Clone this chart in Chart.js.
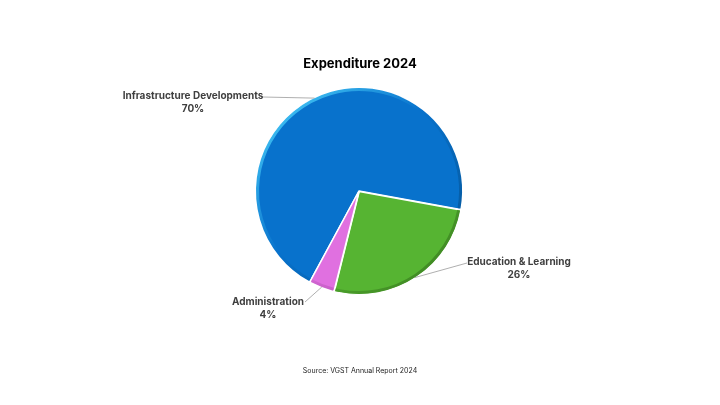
<!DOCTYPE html>
<html>
<head>
<meta charset="utf-8">
<script src="https://cdn.jsdelivr.net/npm/chart.js@4.4.1/dist/chart.umd.min.js"></script>
<style>
  html, body { margin: 0; padding: 0; background: #ffffff; }
  #wrap { width: 720px; height: 405px; }
</style>
</head>
<body>
<div id="wrap"><canvas id="c" width="720" height="405"></canvas></div>
<script>
// ---- data ----
const categories = ["Infrastructure Developments", "Education & Learning", "Administration"];
const shares = [70, 26, 4];
const percentLabels = ["70%", "26%", "4%"];
const chartTitle = "Expenditure 2024";
const sourceNote = "Source: VGST Annual Report 2024";

// ---- styles ----
const sliceColors = ["#0872cc", "#56b432", "#e070e0"];
const sliceDark = ["#04508f", "#3a7f20", "#a848a8"];
const sliceLight = ["#4fd8ff", "#a6e67c", "#f7b8f7"];
// label anchor layout (text centre, line start)
const labelLayout = [
  { tx: 193, ty: 96, lx: 263, ly: 97 },
  { tx: 519, ty: 262, lx: 467, ly: 263 },
  { tx: 268, ty: 302, lx: 305, ly: 302 }
];
const FONT = '"Inter", "Liberation Sans", Arial, sans-serif';

function sliceFill(ctx) {
  const el = ctx.element;
  const i = ctx.dataIndex;
  if (!el || el.x === undefined || !el.outerRadius) return sliceColors[i];
  const c = ctx.chart.ctx;
  const g = c.createRadialGradient(el.x, el.y, 0, el.x, el.y, el.outerRadius);
  g.addColorStop(0, sliceColors[i]);
  g.addColorStop(0.9, sliceColors[i]);
  g.addColorStop(1, sliceDark[i]);
  return g;
}

const bevelPlugin = {
  id: 'bevel',
  afterDatasetsDraw(chart) {
    const ctx = chart.ctx;
    const meta = chart.getDatasetMeta(0);
    meta.data.forEach((arc, i) => {
      const p = arc.getProps(['x', 'y', 'startAngle', 'endAngle', 'outerRadius']);
      const r = p.outerRadius - 1.5;
      const g = ctx.createLinearGradient(p.x - r, p.y - r, p.x + r, p.y + r);
      g.addColorStop(0, sliceLight[i]);
      g.addColorStop(0.45, sliceColors[i]);
      g.addColorStop(1, sliceDark[i]);
      ctx.save();
      ctx.beginPath();
      ctx.arc(p.x, p.y, r, p.startAngle + 0.01, p.endAngle - 0.01);
      ctx.strokeStyle = g;
      ctx.lineWidth = 3;
      ctx.stroke();
      ctx.restore();
    });
  }
};

const textPlugin = {
  id: 'texts',
  afterDraw(chart) {
    const ctx = chart.ctx;
    ctx.save();
    ctx.textAlign = 'center';
    ctx.textBaseline = 'middle';
    ctx.fillStyle = '#000000';
    ctx.font = 'bold 13px ' + FONT;
    ctx.fillText(chartTitle, 360, 64);
    ctx.font = '7px ' + FONT;
    ctx.fillStyle = '#222222';
    ctx.fillText(sourceNote, 360, 371);

    const meta = chart.getDatasetMeta(0);
    meta.data.forEach((arc, i) => {
      const p = arc.getProps(['x', 'y', 'startAngle', 'endAngle', 'outerRadius']);
      const mid = (p.startAngle + p.endAngle) / 2;
      const ex = p.x + Math.cos(mid) * p.outerRadius;
      const ey = p.y + Math.sin(mid) * p.outerRadius;
      const L = labelLayout[i];
      ctx.beginPath();
      ctx.moveTo(L.lx, L.ly);
      ctx.lineTo(ex, ey);
      ctx.strokeStyle = '#9a9a9a';
      ctx.lineWidth = 0.8;
      ctx.stroke();
      ctx.fillStyle = '#3f3f3f';
      ctx.font = 'bold 10px ' + FONT;
      ctx.fillText(categories[i], L.tx, L.ty);
      ctx.fillText(percentLabels[i], L.tx, L.ty + 13);
    });
    ctx.restore();
  }
};

new Chart(document.getElementById('c'), {
  type: 'pie',
  data: {
    labels: categories,
    datasets: [{
      data: shares,
      backgroundColor: sliceFill,
      borderColor: '#ffffff',
      borderWidth: 1.5,
      offset: [0, 2, 0],
      hoverOffset: 0
    }]
  },
  options: {
    responsive: false,
    animation: false,
    rotation: 208.4,
    radius: 103,
    layout: { padding: { left: 256, right: 258, top: 88, bottom: 111 } },
    plugins: {
      legend: { display: false },
      tooltip: { enabled: false },
      title: { display: false }
    }
  },
  plugins: [bevelPlugin, textPlugin]
});
</script>
</body>
</html>
